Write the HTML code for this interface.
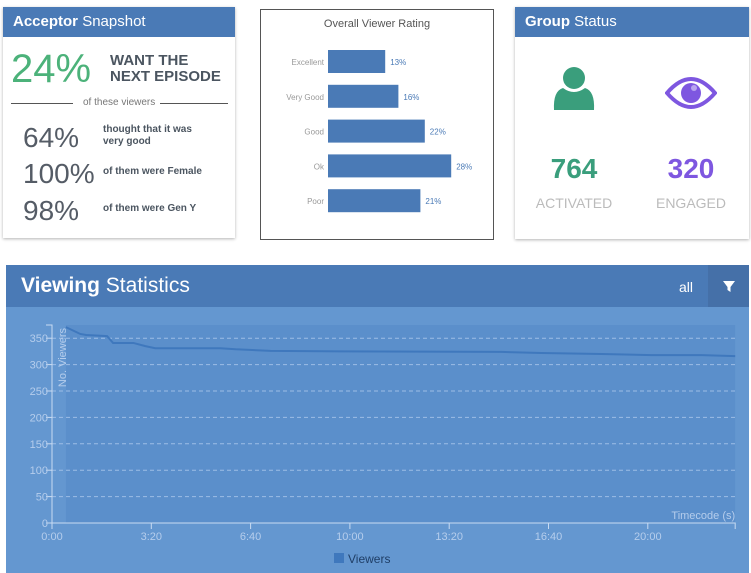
<!DOCTYPE html>
<html><head><meta charset="utf-8"><style>
body{margin:0;width:751px;height:573px;background:#fff;position:relative;overflow:hidden;font-family:"Liberation Sans",sans-serif}
.abs{position:absolute}
.hdr{background:#4a7ab6;color:#fff;font-size:15px;line-height:30px;padding-left:10px}
.hdr b{font-weight:bold}
</style></head><body>
<div class="abs" style="left:3px;top:7px;width:232px;height:231px;background:#fff;box-shadow:0 1px 3px rgba(0,0,0,.3)">
 <div class="hdr"><b>Acceptor</b> Snapshot</div>
 <div class="abs" style="left:8px;top:40px;font-size:40px;color:#4cb27a">24%</div>
 <div class="abs" style="left:107px;top:46px;font-size:15px;line-height:16px;color:#4b5560;font-weight:bold">WANT THE<br>NEXT EPISODE</div>
 <div class="abs" style="left:8px;top:96px;width:62px;border-top:1px solid #555"></div>
 <div class="abs" style="left:157px;top:96px;width:68px;border-top:1px solid #555"></div>
 <div class="abs" style="left:80px;top:90px;font-size:10px;color:#777">of these viewers</div>
 <div class="abs" style="left:20px;top:115px;font-size:28px;color:#555c66">64%</div>
 <div class="abs" style="left:100px;top:117px;font-size:10px;line-height:12px;color:#4b5560;font-weight:bold">thought that it was<br>very good</div>
 <div class="abs" style="left:20px;top:151px;font-size:28px;color:#555c66">100%</div>
 <div class="abs" style="left:100px;top:159px;font-size:10px;color:#4b5560;font-weight:bold">of them were Female</div>
 <div class="abs" style="left:20px;top:188px;font-size:28px;color:#555c66">98%</div>
 <div class="abs" style="left:100px;top:196px;font-size:10px;color:#4b5560;font-weight:bold">of them were Gen Y</div>
</div>

<svg class="abs" style="left:0;top:0" width="751" height="250" id="bars"></svg>

<div class="abs" style="left:515px;top:7px;width:234px;height:232px;background:#fff;box-shadow:0 1px 3px rgba(0,0,0,.3)">
 <div class="hdr"><b>Group</b> Status</div>
 <svg class="abs" style="left:38px;top:59px" width="42" height="45"><circle cx="21" cy="12" r="11" fill="#3a9e7c"/><path d="M1 44 Q0 25 10 22 Q21 30 32 22 Q42 25 41 44 Z" fill="#3a9e7c"/></svg>
 <svg class="abs" style="left:150px;top:66px" width="52" height="40"><path d="M2 20 Q26 -8 50 20 Q26 48 2 20Z" fill="none" stroke="#7e57e0" stroke-width="4"/><circle cx="26" cy="20" r="10" fill="#7e57e0"/><circle cx="29" cy="15" r="3" fill="#b9a4f0"/></svg>
 <div class="abs" style="left:20px;top:146px;width:78px;text-align:center;font-size:28px;font-weight:bold;color:#3a9e7c">764</div>
 <div class="abs" style="left:137px;top:146px;width:78px;text-align:center;font-size:28px;font-weight:bold;color:#7e57e0">320</div>
 <div class="abs" style="left:10px;top:188px;width:98px;text-align:center;font-size:14px;color:#bbb">ACTIVATED</div>
 <div class="abs" style="left:127px;top:188px;width:98px;text-align:center;font-size:14px;color:#bbb">ENGAGED</div>
</div>

<div class="abs" style="left:6px;top:265px;width:743px;height:308px;background:#6497d0">
 <div class="abs" style="left:0;top:0;width:743px;height:42px;background:#4a7ab6"></div>
 <div class="abs" style="left:15px;top:9px;font-size:21px;color:#fff"><b>Viewing</b> Statistics</div>
 <div class="abs" style="left:673px;top:14px;font-size:14px;color:#fff">all</div>
 <div class="abs" style="left:702px;top:0;width:41px;height:42px;background:#4570a8"><svg width="41" height="42"><path d="M15 16 H27 L22.5 22 V27 L19.5 25 V22 Z" fill="#fff"/></svg></div>
</div>
<svg class="abs" style="left:0;top:0" width="751" height="573" id="line"></svg>

<script>
const NS="http://www.w3.org/2000/svg";
function mk(p,t,a,txt){const e=document.createElementNS(NS,t);for(const k in a)e.setAttribute(k,a[k]);if(txt!=null)e.textContent=txt;p.appendChild(e);return e;}
// bar chart data
const ratingCats=["Excellent","Very Good","Good","Ok","Poor"];
const ratingVals=[13,16,22,28,21];
const bs=document.getElementById('bars');
let fr=mk(bs,'rect',{x:260.5,y:9.5,width:233,height:230,fill:'#fff',stroke:'#555'});


let tt=mk(bs,'text',{x:377,y:27,'text-anchor':'middle','font-size':11,fill:'#555','font-family':'Liberation Sans'},'Overall Viewer Rating');


const bx=v=>328+v*4.4, by=i=>50+i*34.8;
ratingCats.forEach((c,i)=>{
 const r=mk(bs,'rect',{x:328,y:by(i),width:bx(ratingVals[i])-328,height:23,fill:'#4a7ab6'});
 
 
 const l=mk(bs,'text',{x:324,y:by(i)+15,'text-anchor':'end','font-size':8,fill:'#999','font-family':'Liberation Sans'},c);
 
 
 const v=mk(bs,'text',{x:bx(ratingVals[i])+5,y:by(i)+15,'font-size':8,fill:'#4a7ab6','font-family':'Liberation Sans'},ratingVals[i]+'%');
 
 
});
// line chart data
const timeSec=[28,57,69,111,123,164,188,208,339,370,440,582,905,986,1107,1208,1309,1376];
const viewers=[371,358,356,354,341,341,335,331,331,329,326,325,324,322,320,318,318,316];
const yTicks=[0,50,100,150,200,250,300,350];
const xTicks=[0,200,400,600,800,1000,1200];
const xLabels=["0:00","3:20","6:40","10:00","13:20","16:40","20:00"];
const ls=document.getElementById('line');
const X=s=>52+s*0.4965, Y=v=>523-v*0.528;
const F={'font-family':'Liberation Sans','font-size':11,fill:'#b5cdec'};
let area=mk(ls,'rect',{x:X(timeSec[0]),y:Y(375),width:X(1376)-X(timeSec[0]),height:Y(0)-Y(375),fill:'#5b8fcb'});


yTicks.forEach(t=>{
 if(t>0){const g=mk(ls,'line',{x1:52,x2:X(1376),y1:Y(t),y2:Y(t),stroke:'#9dbde6','stroke-dasharray':'4,3','stroke-width':1});
 
 }
 mk(ls,'line',{x1:46,x2:52,y1:Y(t),y2:Y(t),stroke:'#c8dbf2'});
 const l=mk(ls,'text',Object.assign({x:48,y:Y(t)+4,'text-anchor':'end'},F),t);
 
 
});
xTicks.forEach((t,i)=>{
 mk(ls,'line',{x1:X(t),x2:X(t),y1:Y(0),y2:Y(0)+6,stroke:'#c8dbf2'});
 const l=mk(ls,'text',Object.assign({x:X(t),y:Y(0)+17,'text-anchor':'middle'},F),xLabels[i]);
 
 
});
mk(ls,'path',{d:`M46 ${Y(375)}H52V${Y(0)}H${X(1376)}V${Y(0)+6}`,fill:'none',stroke:'#c8dbf2'});
let yt=mk(ls,'text',Object.assign({transform:`translate(66,${Y(0)-135}) rotate(-90)`,'text-anchor':'end',y:0},F),'No. Viewers');
yt.setAttribute('transform','translate(66,328) rotate(-90)');


let xt=mk(ls,'text',Object.assign({x:X(1376),y:Y(0)-4,'text-anchor':'end'},F),'Timecode (s)');


let ln=mk(ls,'path',{d:timeSec.map((s,i)=>(i?'L':'M')+X(s)+' '+Y(viewers[i])).join(''),fill:'none',stroke:'#3f78bd','stroke-width':2});


let lg=mk(ls,'rect',{x:334,y:553,width:10,height:10,fill:'#3f78bd'});


let lt=mk(ls,'text',{x:348,y:563,'font-size':12,fill:'#1f3e66','font-family':'Liberation Sans'},'Viewers');


</script>
</body></html>
